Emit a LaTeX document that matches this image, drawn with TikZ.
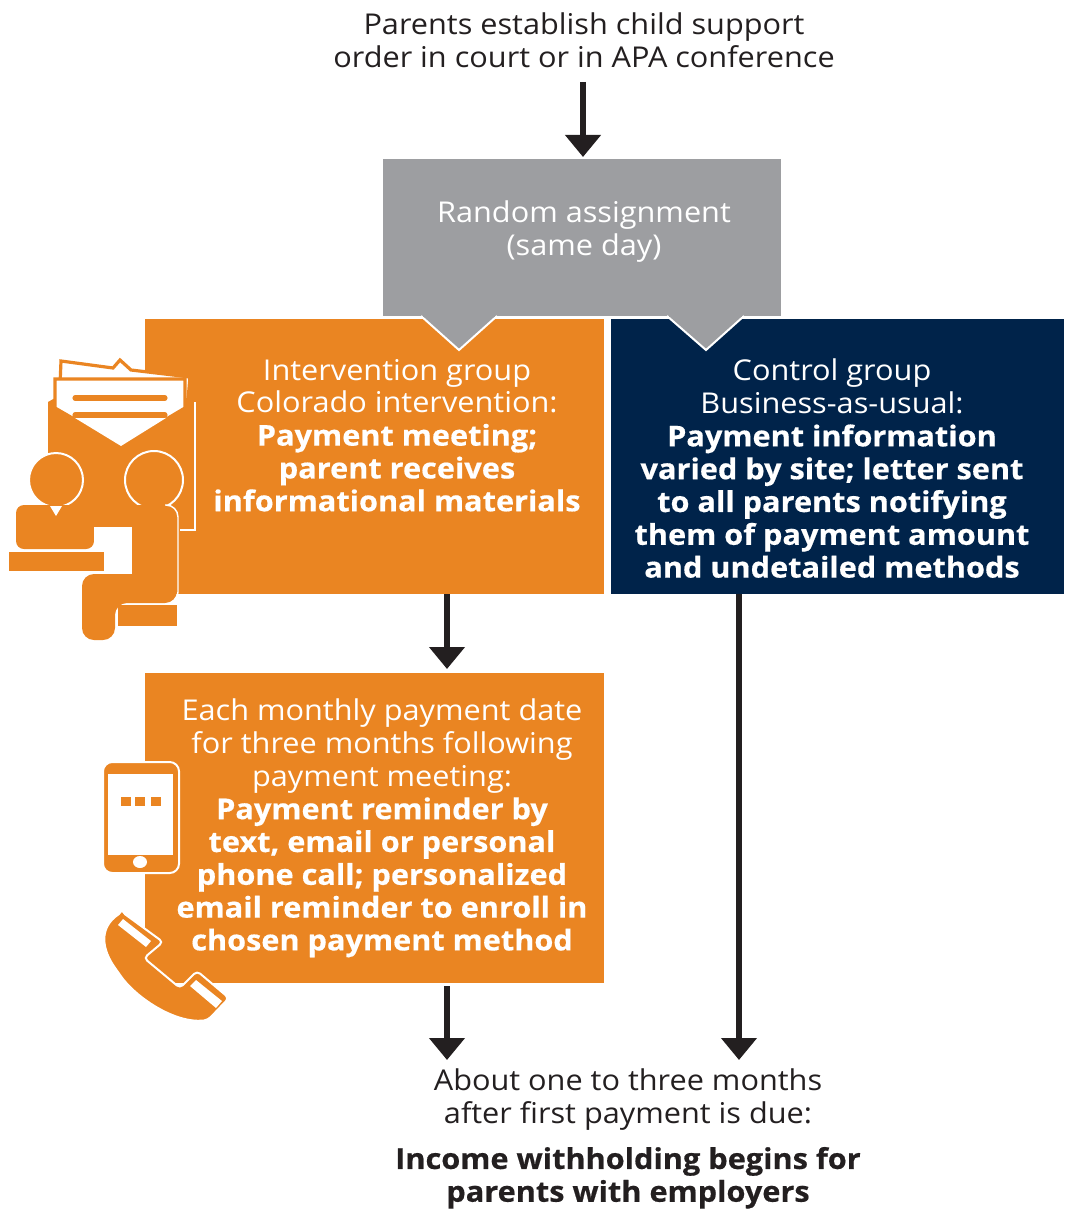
\documentclass[tikz,border=0pt]{standalone}
\usepackage{fontspec}
\setmainfont{Open Sans}[FakeStretch=1.07,BoldFeatures={FakeBold=0.5}]
\usetikzlibrary{arrows.meta}
\definecolor{cOrange}{HTML}{EA8522}
\definecolor{cNavy}{HTML}{00234A}
\definecolor{cGray}{HTML}{9D9EA1}
\definecolor{cInk}{HTML}{231F20}
\tikzset{
  box/.style={inner sep=0pt,outer sep=0pt,draw=none,anchor=north west},
  orangebox/.style={box,fill=cOrange},
  navybox/.style={box,fill=cNavy},
  graybox/.style={box,fill=cGray},
  label/.style={align=center,inner sep=0pt,outer sep=0pt,font=\fontsize{21.5}{24.6}\selectfont,anchor=north},
  lightlabel/.style={label,text=white},
  darklabel/.style={label,text=cInk},
  flow/.style={draw=cInk,line width=5.2pt,-{Triangle[width=26pt,length=16.5pt]}},
  pointer/.style={fill=cGray,draw=white,line width=1.5pt,line join=miter},
  icon/.style={fill=cOrange,draw=none},
  iconw/.style={fill=cOrange,draw=white,line width=1.5pt},
  blank/.style={fill=white,draw=none},
  paper/.style={fill=white,draw=cOrange,line width=2.4pt,line join=miter},
  rule/.style={draw=cOrange,line width=3.8pt,line cap=round}
}
\begin{document}
\begin{tikzpicture}[x=0.75pt,y=-0.75pt]
\useasboundingbox (0,0) rectangle (1064,1209);

% boxes
\node[orangebox,minimum width=459*.75pt,minimum height=275*.75pt] (interv) at (145,319) {};
\node[navybox,minimum width=453*.75pt,minimum height=275*.75pt] (control) at (611,319) {};
\node[orangebox,minimum width=459*.75pt,minimum height=310*.75pt] (remind) at (145,673) {};
\node[graybox,minimum width=398*.75pt,minimum height=157*.75pt] (rand) at (383,159) {};
\draw[pointer] (421,316) -- (459,350) -- (497,316);
\draw[pointer] (667,316) -- (706,350) -- (744,316);
\fill[cGray] (423,314) rectangle (495,316.5);
\fill[cGray] (669,314) rectangle (742,316.5);

% envelope and people icon
\fill[cOrange] (48,402) -- (55,398) -- (185,398) -- (193,402) -- (193,530) -- (145,530) -- (48,530) -- cycle;
\draw[white,line width=1.5pt] (195,402) -- (195,530) -- (180,530);
\draw[paper] (61,361) -- (113,368) -- (120,360) -- (131,370) -- (190,377) -- (188,400) -- (60,385) -- cycle;
\draw[paper] (55,379) -- (185,379) -- (185,408) -- (121,446) -- (55,408) -- cycle;
\draw[rule] (75,398) -- (165,398);
\draw[rule] (75,415) -- (165,415);
\fill[white] (75,418) -- (166,418) -- (121,446) -- cycle;
\draw[iconw] (56,480) circle (27);
\draw[iconw] (154,480) circle (29);
\fill[icon,rounded corners=6] (16,549) -- (16,505) -- (94,505) -- (94,549) -- cycle;
\fill[white] (50,506) -- (62,506) -- (56,516) -- cycle;
\fill[blank] (94,527) rectangle (132,574);
\fill[icon] (9,552) rectangle (104,571);
\fill[icon] (132,505) [rounded corners=9] -- (177,505) -- (177,603) -- (115,603) [sharp corners] -- (115,620) [rounded corners=9] -- (115,640) -- (82,640) -- (82,574) [sharp corners] -- (132,574) -- cycle;
\draw[white,line width=1.1pt,rounded corners=9] (165,505) -- (178,505) -- (178,604) -- (165,604);
\fill[icon] (118,605) rectangle (177,626);

% phone icon
\draw[iconw,rounded corners=7] (103,762) rectangle (179,873);
\fill[blank] (108,774) rectangle (173,855);
\fill[icon] (121,797) rectangle (131,806);
\fill[icon] (135,797) rectangle (145,806);
\fill[icon] (151,797) rectangle (161,806);
\fill[white] (140,862) ellipse (7 and 6);

% handset icon
\draw[iconw,rounded corners=3] (122,912) -- (163,942) -- (144,958) -- (180,988) -- (197,971) -- (229,998) -- (208,1020)
  .. controls (175,1024) and (135,997) .. (118,972) .. controls (102,950) and (98,928) .. (122,912) -- cycle;
\fill[white] (118,925) -- (123,919) -- (151,941) -- (146,947) -- cycle;
\fill[white] (190,986) -- (196,980) -- (222,1001) -- (216,1008) -- cycle;

% texts
\node[darklabel] (start) at (584,13) {Parents establish child support\\order in court or in APA conference};
\node[lightlabel] (randtext) at (584,201) {Random assignment\\(same day)};
\node[lightlabel] (intervtext) at (397,359) {Intervention group\\Colorado intervention:\\\textbf{Payment meeting;}\\\textbf{parent receives}\\\textbf{informational materials}};
\node[lightlabel] (controltext) at (832,359) {Control group\\Business-as-usual:\\\textbf{Payment information}\\\textbf{varied by site; letter sent}\\\textbf{to all parents notifying}\\\textbf{them of payment amount}\\\textbf{and undetailed methods}};
\node[lightlabel] (remindtext) at (382,699) {Each monthly payment date\\for three months following\\payment meeting:\\\textbf{Payment reminder by}\\\textbf{text, email or personal}\\\textbf{phone call; personalized}\\\textbf{email reminder to enroll in}\\\textbf{chosen payment method}};
\node[darklabel] (outcome) at (628,1069) {About one to three months\\after first payment is due:};
\node[darklabel] (outcomeb) at (628,1147) {\textbf{Income withholding begins for}\\\textbf{parents with employers}};

% connectors
\coordinate (leftline) at (447,640);
\coordinate (rightline) at (739,640);
\coordinate (topline) at (583,100);
\coordinate (topstart) at (583,82);
\draw[flow] (topstart) -- ([yshift=2*.75pt]rand.north -| topline);
\draw[flow] (interv.south -| leftline) -- ([yshift=4*.75pt]remind.north -| leftline);
\draw[flow] ([yshift=-3*.75pt]remind.south -| leftline) -- ([yshift=9*.75pt]outcome.north -| leftline);
\draw[flow] (control.south -| rightline) -- ([yshift=9*.75pt]outcome.north -| rightline);
\end{tikzpicture}
\end{document}
